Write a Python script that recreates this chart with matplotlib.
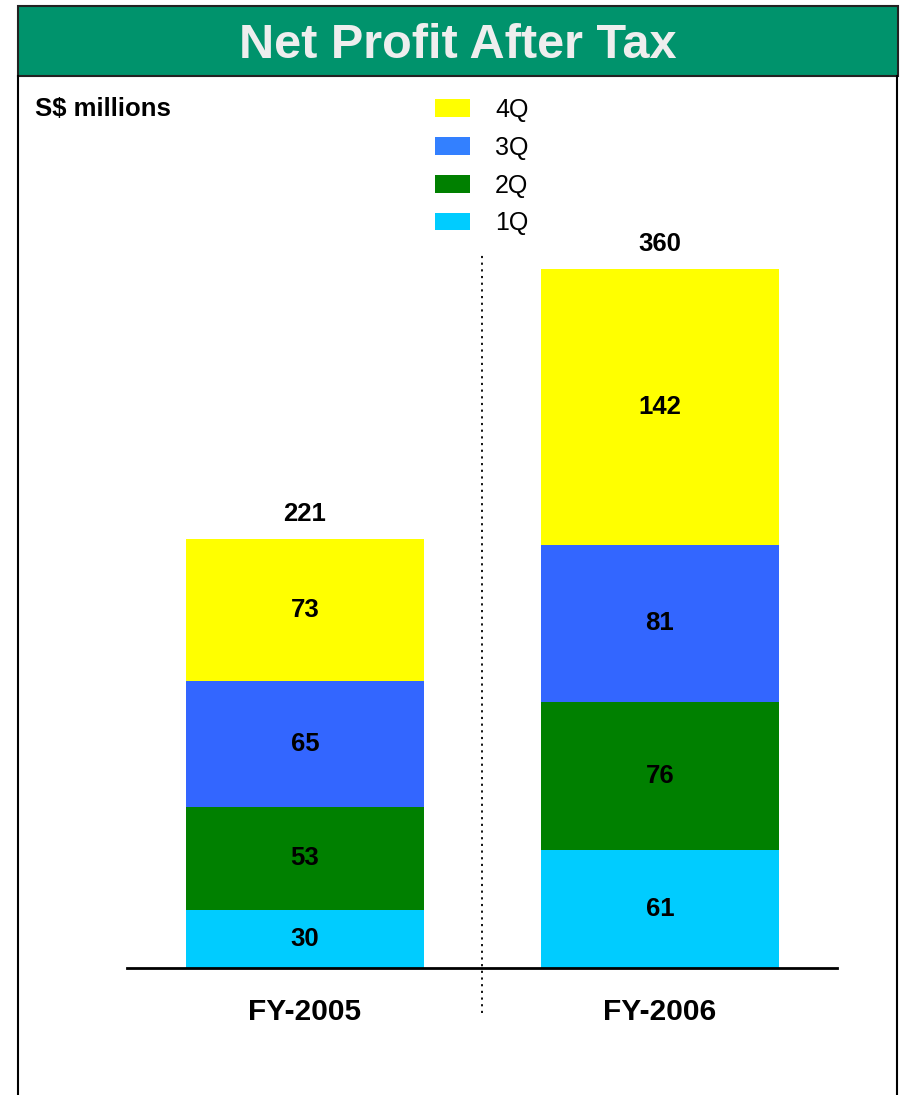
import matplotlib
matplotlib.use("Agg")
import matplotlib.pyplot as plt
from matplotlib.patches import Rectangle, Patch
from matplotlib.lines import Line2D

plt.rcParams['font.family'] = ['Liberation Sans', 'DejaVu Sans']

categories = ["FY-2005", "FY-2006"]
quarters = ["1Q", "2Q", "3Q", "4Q"]
q1 = [30, 61]
q2 = [53, 76]
q3 = [65, 81]
q4 = [73, 142]
totals = [221, 360]
colors = ["#00CCFF", "#008000", "#3366FF", "#FFFF00"]
legend_colors = ["#00CCFF", "#008000", "#3380FF", "#FFFF00"]

W, H = 900, 1095
fig = plt.figure(figsize=(W / 100, H / 100), dpi=100)

# banner and frame
fig.patches.append(Rectangle((18 / W, 1 - 76 / H), 880 / W, 70 / H, transform=fig.transFigure,
                             facecolor="#00936C", edgecolor="#222222", lw=1.5, zorder=0))
fig.text(458 / W, 1 - 45 / H, "Net Profit After Tax", ha="center", va="center",
         fontsize=35, fontweight="bold", color="#EEEEEE")
for xp in (18, 897):
    fig.lines.append(Line2D([xp / W, xp / W], [0, 1 - 76 / H], transform=fig.transFigure,
                            color="black", lw=1.5))
fig.text(35 / W, 1 - 109 / H, "S$ millions", ha="left", va="center",
         fontsize=18.5, fontweight="bold", color="black")

ax = fig.add_axes([127 / W, (H - 968) / H, 710 / W, (968 - 269) / H])
x = [0, 1]
series = [q1, q2, q3, q4]
bottom = [0, 0]
for vals, c in zip(series, colors):
    ax.bar(x, vals, width=0.673, bottom=bottom, color=c, edgecolor="none")
    for xi, v, b in zip(x, vals, bottom):
        ax.text(xi, b + v / 2, str(v), ha="center", va="center",
                fontsize=18.5, fontweight="bold", color="black")
    bottom = [b + v for b, v in zip(bottom, vals)]

for xi, t in zip(x, totals):
    ax.annotate(str(t), (xi, t), xytext=(0, 18), textcoords="offset points",
                ha="center", va="center", fontsize=18.5, fontweight="bold")

ax.set_xlim(-0.5014, 1.4986)
ax.set_ylim(0, max(totals))
for s in ("top", "right", "left"):
    ax.spines[s].set_visible(False)
ax.spines["bottom"].set_linewidth(2)
ax.set_yticks([])
ax.set_xticks([])
for xi, c in zip(x, categories):
    ax.annotate(c, (xi, 0), xytext=(0, -32), textcoords="offset points",
                ha="center", va="center", fontsize=21.5, fontweight="bold")

# divider
ax.plot([0.5, 0.5], [-23.2, 368], color="black", lw=1.3, ls=(0, (1.2, 2.5)), clip_on=False)

handles = [Patch(facecolor=c, edgecolor="none") for c in legend_colors[::-1]]
fig.legend(handles, quarters[::-1], loc="upper left", bbox_to_anchor=(435 / W, 1 - 98 / H),
           frameon=False, fontsize=18, handlelength=1.4, handleheight=0.72,
           handletextpad=1.0, labelspacing=0.55, borderpad=0, borderaxespad=0)

fig.savefig("out.png", dpi=100, facecolor="white")
